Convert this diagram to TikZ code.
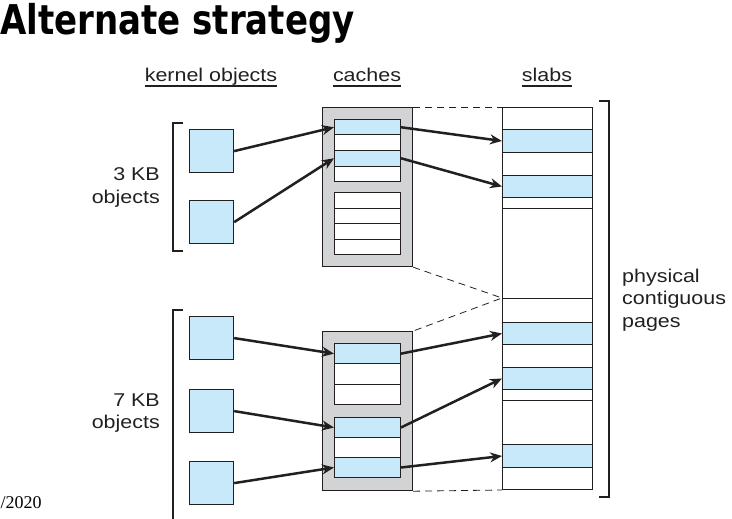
\documentclass[tikz,border=0pt]{standalone}
\usepackage{fontspec}
\setmainfont{Liberation Sans}[FakeStretch=1.16]
\newfontfamily\titlefont{DejaVu Sans}[FakeStretch=0.83]
\newfontfamily\datefont{Liberation Serif}
\usetikzlibrary{arrows.meta, positioning}
\definecolor{objblue}{RGB}{200, 233, 250}
\definecolor{cachegrey}{RGB}{209, 211, 212}
\definecolor{inkdark}{RGB}{35, 31, 32}

\begin{document}
\begin{tikzpicture}[x=1pt, y=-1pt,
  obj/.style={draw=inkdark, fill=objblue, line width=1.2pt, minimum width=44pt, minimum height=43pt, inner sep=0pt, anchor=north west},
  cachebox/.style={draw=inkdark, fill=cachegrey, line width=1.2pt, minimum width=90pt, minimum height=159pt, inner sep=0pt, anchor=north west},
  crow/.style={draw=inkdark, fill=white, line width=1pt, minimum width=66pt, inner sep=0pt, anchor=north west},
  srow/.style={draw=inkdark, fill=white, line width=1pt, minimum width=90pt, inner sep=0pt, anchor=north west},
  arr/.style={draw=inkdark, line width=2.5pt, -{Stealth[length=12pt, width=10pt]}},
  link/.style={draw=inkdark, line width=0.8pt, dash pattern=on 7pt off 5pt},
  brace/.style={draw=inkdark, line width=1.2pt},
  uline/.style={draw=inkdark, line width=1.3pt},
  hdr/.style={font=\fontsize{18.5}{22.5}\selectfont, text=inkdark, anchor=base, inner sep=0pt},
  lbl/.style={font=\fontsize{18.5}{22.5}\selectfont, text=inkdark, inner sep=0pt}
]
  \useasboundingbox (0,0) rectangle (732,519);

  % title and headings
  \node[font=\titlefont\bfseries\fontsize{41}{44}\selectfont, anchor=base west, inner sep=0pt] (title) at (0,35) {Alternate strategy};
  \node[hdr] (hobj) at (211,82) {kernel objects};
  \node[hdr] (hcache) at (367,82) {caches};
  \node[hdr] (hslab) at (547,82) {slabs};
  \foreach \h in {hobj, hcache, hslab}
    \draw[uline] ([yshift=-4pt]\h.base west) -- ([yshift=-4pt]\h.base east);

  % kernel objects
  \node[obj] (o1) at (189,129) {};
  \node[obj] (o2) at (189,200) {};
  \node[obj] (o3) at (189,316) {};
  \node[obj] (o4) at (189,389) {};
  \node[obj] (o5) at (189,461) {};
  \node[lbl, align=right, anchor=east] (l3) at (160,187.6) {3 KB\\objects};
  \node[lbl, align=right, anchor=east] (l7) at (160,413.3) {7 KB\\objects};
  \draw[brace] (183,123) -- (173,123) -- (173,251) -- (183,251);
  \draw[brace] (183,310) -- (173,310) -- (173,525);

  % caches
  \node[cachebox] (cache1) at (322,107) {};
  \node[cachebox] (cache2) at (322,331) {};
  \foreach \t/\h/\c [count=\i] in {119/15.5/objblue, 134.5/15.5/white, 150/15.5/objblue, 165.5/15.5/white,
      192/15.5/white, 207.5/15.5/white, 223/15.5/white, 238.5/15.5/white}
    \node[crow, fill=\c, minimum height=\h pt] (c1r\i) at (334,\t) {};
  \foreach \t/\h/\c [count=\i] in {343/20.3/objblue, 363.3/20.3/white, 383.6/20.4/white,
      417/20/objblue, 437/20/white, 457/20/objblue}
    \node[crow, fill=\c, minimum height=\h pt] (c2r\i) at (334,\t) {};

  % slabs
  \foreach \t/\b/\c [count=\i] in {107/129/white, 129/152/objblue, 152/175/white, 175/197/objblue,
      197/208/white, 208/298/white, 298/322/white, 322/344/objblue, 344/367/white, 367/389/objblue,
      389/400/white, 400/444/white, 444/467/objblue, 467/489/white}
  {
    \pgfmathsetmacro\hh{\b-\t}
    \node[srow, fill=\c, minimum height=\hh pt] (s\i) at (502,\t) {};
  }
  \draw[brace] (599,101) -- (609,101) -- (609,497) -- (599,497);
  \node[lbl, align=left, anchor=west] (lpages) at (622,299.9) {physical\\contiguous\\pages};

  % dashed links cache -> slabs
  \draw[link] (cache1.north east) -- (s1.north west);
  \draw[link] (cache1.south east) -- (s7.north west) -- (cache2.north east);
  \draw[link] (cache2.south east) -- (s14.south west);

  % arrows
  \draw[arr] (o1.east) -- (c1r1.west);
  \draw[arr] (o2.east) -- (c1r3.west);
  \draw[arr] (o3.east) -- (c2r1.west);
  \draw[arr] (o4.east) -- (c2r4.west);
  \draw[arr] (o5.east) -- (c2r6.west);
  \draw[arr] (c1r1.east) -- (s2.west);
  \draw[arr] (c1r3.east) -- (s4.west);
  \draw[arr] (c2r1.east) -- (s8.west);
  \draw[arr] (c2r4.east) -- (s10.west);
  \draw[arr] (c2r6.east) -- (s13.west);

  \node[font=\datefont\fontsize{18}{20}\selectfont, anchor=base west, inner sep=0pt] (date) at (0.5,508) {/2020};
\end{tikzpicture}
\end{document}
